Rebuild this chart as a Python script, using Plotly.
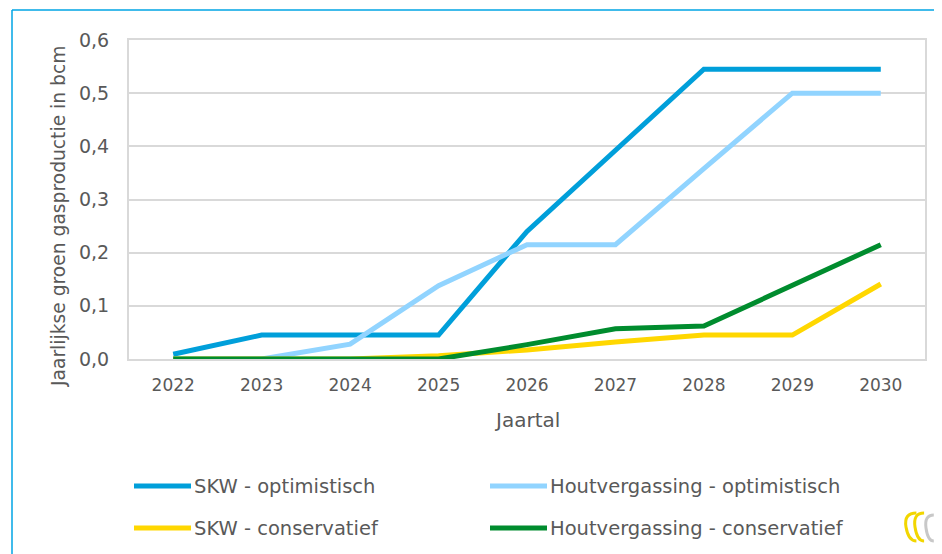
import plotly.graph_objects as go

years = ["2022", "2023", "2024", "2025", "2026", "2027", "2028", "2029", "2030"]
skw_opt = [0.009, 0.045, 0.045, 0.045, 0.240, 0.392, 0.545, 0.545, 0.545]
hout_opt = [0.0, 0.0, 0.028, 0.138, 0.215, 0.215, 0.358, 0.500, 0.500]
skw_cons = [0.0, 0.0, 0.0, 0.006, 0.017, 0.032, 0.045, 0.045, 0.141]
hout_cons = [0.0, 0.0, 0.0, 0.0, 0.027, 0.057, 0.062, 0.139, 0.215]
y_ticks = [0, 0.1, 0.2, 0.3, 0.4, 0.5, 0.6]
y_tick_labels = ["0,0", "0,1", "0,2", "0,3", "0,4", "0,5", "0,6"]
series_names = ["SKW - optimistisch", "Houtvergassing - optimistisch",
                "SKW - conservatief", "Houtvergassing - conservatief"]
colors = ["#009FDA", "#91D4FF", "#FFD700", "#008C2E"]

OFF = 8  # page body margin
W, H = 942 - OFF, 554 - OFF
L, R, T, B = 129 - OFF, 925 - OFF, 40 - OFF, 359 - OFF
FONT = "DejaVu Sans"
TXT = "#595959"


def px(x):
    # x given in page pixels
    return (x - OFF - L) / (R - L)


def py(y):
    return (B - (y - OFF)) / (B - T)


fig = go.Figure()
for name, vals, col in zip(series_names, [skw_opt, hout_opt, skw_cons, hout_cons], colors):
    fig.add_trace(go.Scatter(x=years, y=vals, mode="lines", name=name,
                             line=dict(color=col, width=5), showlegend=False))

shapes = []
annotations = []
# outer frame
shapes.append(dict(type="line", xref="paper", yref="paper", x0=px(12), x1=px(960),
                   y0=py(10), y1=py(10), line=dict(color="#00A4E4", width=1.5)))
shapes.append(dict(type="line", xref="paper", yref="paper", x0=px(12), x1=px(12),
                   y0=py(10), y1=py(570), line=dict(color="#00A4E4", width=1.5)))

# manual legend
leg_pos = [(134, 486), (490, 486), (134, 528), (490, 528)]
for (lx, ly), name, col in zip(leg_pos, series_names, colors):
    shapes.append(dict(type="line", xref="paper", yref="paper", x0=px(lx), x1=px(lx + 57),
                       y0=py(ly), y1=py(ly), line=dict(color=col, width=5)))
    annotations.append(dict(text=name, xref="paper", yref="paper", x=px(lx + 58), y=py(ly),
                            xanchor="left", yanchor="middle", showarrow=False,
                            font=dict(family=FONT, size=19.5, color=TXT)))

# y-axis title
annotations.append(dict(text="Jaarlijkse groen gasproductie in bcm", xref="paper", yref="paper",
                        x=px(58), y=py(217), textangle=-90, showarrow=False,
                        xanchor="center", yanchor="middle",
                        font=dict(family=FONT, size=18.7, color=TXT)))
# x-axis title
annotations.append(dict(text="Jaartal", xref="paper", yref="paper",
                        x=px(527), y=py(420), showarrow=False,
                        xanchor="center", yanchor="middle",
                        font=dict(family=FONT, size=20, color=TXT)))

# small logo approximation
def arc_path(cx, cy, rx, ry):
    return (f"M {px(cx + rx * 0.3)},{py(cy - ry)} "
            f"Q {px(cx - rx * 1.3)},{py(cy - ry)} {px(cx - rx)},{py(cy)} "
            f"Q {px(cx - rx * 0.7)},{py(cy + ry)} {px(cx + rx * 0.3)},{py(cy + ry)}")

shapes.append(dict(type="path", xref="paper", yref="paper", path=arc_path(914, 527, 8, 14),
                   line=dict(color="#F2D600", width=3)))
shapes.append(dict(type="path", xref="paper", yref="paper", path=arc_path(922, 527, 7, 14),
                   line=dict(color="#F2D600", width=3)))
shapes.append(dict(type="path", xref="paper", yref="paper", path=arc_path(932, 528, 6, 13),
                   line=dict(color="#C8C8C8", width=3)))
shapes.append(dict(type="path", xref="paper", yref="paper",
                   path=f"M {px(934)},{py(532)} L {px(942)},{py(524)} L {px(942)},{py(532)} Z",
                   fillcolor="#1A9FE0", line=dict(width=0)))

fig.update_layout(
    width=W, height=H,
    margin=dict(l=L, r=W - R, t=T, b=H - B),
    paper_bgcolor="white", plot_bgcolor="white",
    font=dict(family=FONT, size=18, color=TXT),
    shapes=shapes, annotations=annotations,
    xaxis=dict(type="category", range=[-0.5, 8.5], showgrid=False, ticks="",
               showline=True, linecolor="#D9D9D9", linewidth=2, mirror=True,
               tickfont=dict(family=FONT, size=17, color=TXT), ticklabelstandoff=10),
    yaxis=dict(range=[0, 0.6], tickvals=y_ticks, ticktext=y_tick_labels,
               showgrid=True, gridcolor="#D9D9D9", gridwidth=2, zeroline=False,
               showline=True, linecolor="#D9D9D9", linewidth=2, mirror=True, ticks="",
               tickfont=dict(family=FONT, size=19, color=TXT), ticklabelstandoff=14),
)

fig.write_html("out.html")
